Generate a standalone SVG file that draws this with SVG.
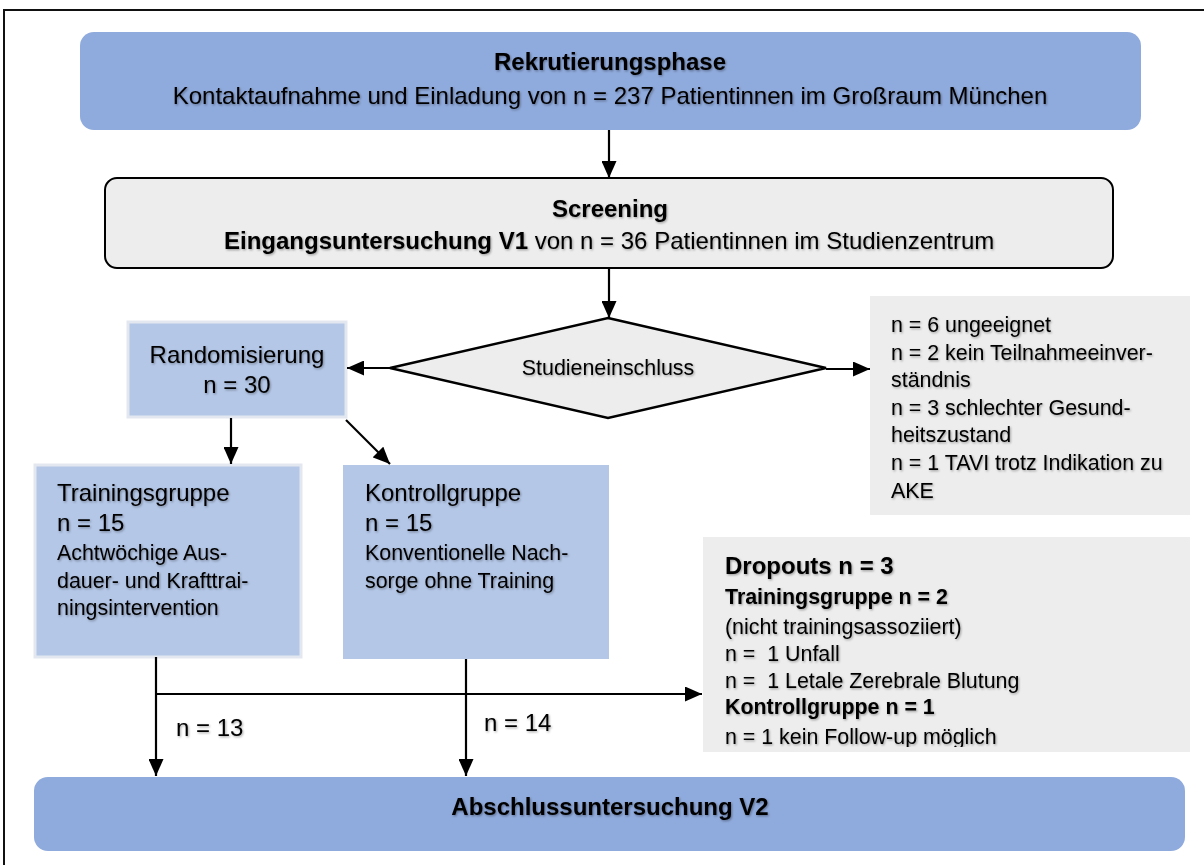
<svg xmlns="http://www.w3.org/2000/svg" width="1204" height="865" viewBox="0 0 1204 865">
<defs>
<marker id="ah" markerUnits="userSpaceOnUse" markerWidth="17" markerHeight="15" viewBox="0 0 17 15" refX="17" refY="7.5" orient="auto">
<path d="M0,0 L17,7.5 L0,15 z" fill="#000"/>
</marker>
<filter id="sh" x="-5%" y="-30%" width="110%" height="160%">
<feDropShadow dx="1" dy="1.2" stdDeviation="0.8" flood-color="#000" flood-opacity="0.35"/>
</filter>
<clipPath id="dropclip"><rect x="703" y="537" width="487" height="210"/></clipPath>
</defs>
<style>
text{font-family:"Liberation Sans",Arial,sans-serif;fill:#000;filter:url(#sh)}
.b{font-weight:bold}
.l{font-size:24px}
.s{font-size:21.4px}
.c{text-anchor:middle}
.con{stroke:#000;stroke-width:2.2;fill:none}
.blue{fill:#8faadc}
.lblue{fill:#b4c7e7;stroke:#e3e8f0;stroke-width:3}
.gray{fill:#ededed}
</style>
<rect width="1204" height="865" fill="#fff"/>
<rect x="4" y="10" width="1215" height="880" fill="none" stroke="#111" stroke-width="2"/>

<g id="rekrutierung">
<rect class="blue" x="80" y="32" width="1061" height="98" rx="14"/>
<text class="l b c" x="610" y="70">Rekrutierungsphase</text>
<text class="l c" x="610" y="104">Kontaktaufnahme und Einladung von n = 237 Patientinnen im Großraum München</text>
</g>

<g id="screening">
<rect class="gray" x="105" y="178" width="1008" height="90" rx="12" stroke="#000" stroke-width="2"/>
<text class="l b c" x="610" y="217">Screening</text>
<text class="l" x="224" y="249"><tspan class="b">Eingangsuntersuchung V1</tspan> von n = 36 Patientinnen im Studienzentrum</text>
</g>

<g id="studieneinschluss">
<polygon points="608,318 826,368 608,418 390,368" fill="#ededed" stroke="#000" stroke-width="2.5"/>
<text class="s c" x="608" y="375">Studieneinschluss</text>
</g>

<g id="randomisierung">
<rect class="lblue" x="128" y="322" width="218" height="95"/>
<text class="l c" x="237" y="363">Randomisierung</text>
<text class="l c" x="237" y="393">n = 30</text>
</g>

<g id="ausschluss">
<rect class="gray" x="870" y="296" width="320" height="219"/>
<text class="s" x="891" y="332">n = 6 ungeeignet</text>
<text class="s" x="891" y="360">n = 2 kein Teilnahmeeinver-</text>
<text class="s" x="891" y="387">ständnis</text>
<text class="s" x="891" y="415">n = 3 schlechter Gesund-</text>
<text class="s" x="891" y="442">heitszustand</text>
<text class="s" x="891" y="470">n = 1 TAVI trotz Indikation zu</text>
<text class="s" x="891" y="498">AKE</text>
</g>

<g id="trainingsgruppe">
<rect class="lblue" x="35" y="465" width="266" height="192"/>
<text class="l" x="57" y="501">Trainingsgruppe</text>
<text class="l" x="57" y="531">n = 15</text>
<text class="s" x="57" y="560">Achtwöchige Aus-</text>
<text class="s" x="57" y="588">dauer- und Krafttrai-</text>
<text class="s" x="57" y="615">ningsintervention</text>
</g>

<g id="kontrollgruppe">
<rect x="343" y="465" width="266" height="194" fill="#b4c7e7"/>
<text class="l" x="365" y="501">Kontrollgruppe</text>
<text class="l" x="365" y="531">n = 15</text>
<text class="s" x="365" y="560">Konventionelle Nach-</text>
<text class="s" x="365" y="588">sorge ohne Training</text>
</g>

<g id="dropouts">
<rect class="gray" x="703" y="537" width="487" height="215"/>
<g clip-path="url(#dropclip)">
<text class="l b" x="725" y="574">Dropouts n = 3</text>
<text class="s b" x="725" y="604">Trainingsgruppe n = 2</text>
<text class="s" x="725" y="634">(nicht trainingsassoziiert)</text>
<text class="s" x="725" y="661" xml:space="preserve">n =  1 Unfall</text>
<text class="s" x="725" y="688" xml:space="preserve">n =  1 Letale Zerebrale Blutung</text>
<text class="s b" x="725" y="714">Kontrollgruppe n = 1</text>
<text class="s" x="725" y="744">n = 1 kein Follow-up möglich</text>
</g>
</g>

<g id="abschluss">
<rect class="blue" x="34" y="777" width="1151" height="74" rx="14"/>
<text class="l b c" x="610" y="815">Abschlussuntersuchung V2</text>
</g>

<g id="connectors">
<line class="con" x1="609" y1="130" x2="609" y2="178" marker-end="url(#ah)"/>
<line class="con" x1="609" y1="268" x2="609" y2="318" marker-end="url(#ah)"/>
<line class="con" x1="390" y1="368" x2="347" y2="368" marker-end="url(#ah)"/>
<line class="con" x1="826" y1="369" x2="870" y2="369" marker-end="url(#ah)"/>
<line class="con" x1="231" y1="418" x2="231" y2="464" marker-end="url(#ah)"/>
<line class="con" x1="346" y1="420" x2="390" y2="464" marker-end="url(#ah)"/>
<line class="con" x1="156" y1="657" x2="156" y2="776" marker-end="url(#ah)"/>
<line class="con" x1="155" y1="694" x2="702" y2="694" marker-end="url(#ah)"/>
<line class="con" x1="466" y1="659" x2="466" y2="776" marker-end="url(#ah)"/>
<text class="l" x="176" y="736">n = 13</text>
<text class="l" x="484" y="731">n = 14</text>
</g>
</svg>
